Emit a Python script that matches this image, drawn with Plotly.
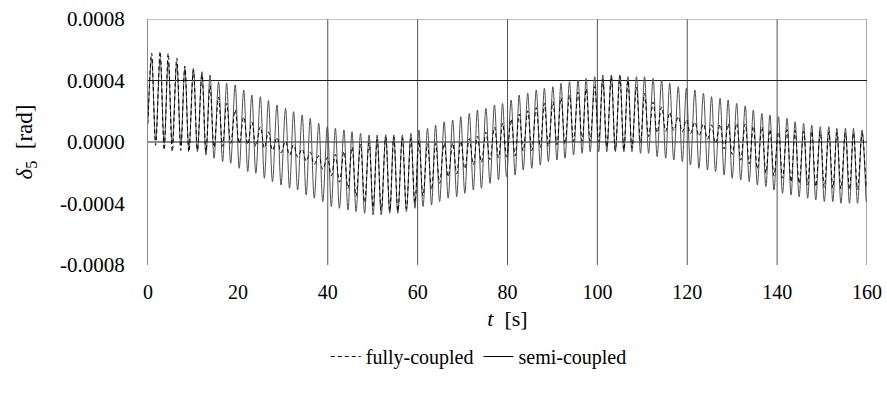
import plotly.graph_objects as go

# ---- data (values in rad, times in s) ----
t_peak = [0.8, 2.7, 4.5, 6.4, 8.2, 10.1, 12.0, 13.8, 15.7, 17.5, 19.4, 21.3, 23.1, 25.0, 26.8,
          28.7, 30.6, 32.4, 34.3, 36.1, 38.0, 39.9, 41.7, 43.6, 45.4, 47.3, 49.2, 51.0, 52.9,
          54.7, 56.6, 58.5, 60.3, 62.2, 64.0, 65.9, 67.8, 69.6, 71.5, 73.3, 75.2, 77.1, 78.9,
          80.8, 82.6, 84.5, 86.4, 88.2, 90.1, 91.9, 93.8, 95.7, 97.5, 99.4, 101.2, 103.1, 105.0, 106.8,
          108.7, 110.5, 112.4, 114.3, 116.1, 118.0, 119.8, 121.7, 123.6, 125.4, 127.3, 129.1, 131.0, 132.9,
          134.7, 136.6, 138.4, 140.3, 142.2, 144.0, 145.9, 147.7, 149.6, 151.5, 153.3, 155.2, 157.0, 158.9]
t_trough = [1.7, 3.6, 5.4, 7.3, 9.1, 11.0, 12.9, 14.7, 16.6, 18.4, 20.3, 22.2, 24.0, 25.9,
            27.7, 29.6, 31.5, 33.3, 35.2, 37.0, 38.9, 40.8, 42.6, 44.5, 46.3, 48.2, 50.1, 51.9,
            53.8, 55.6, 57.5, 59.4, 61.2, 63.1, 64.9, 66.8, 68.7, 70.5, 72.4, 74.2, 76.1, 78.0,
            79.8, 81.7, 83.5, 85.4, 87.3, 89.1, 91.0, 92.8, 94.7, 96.6, 98.4, 100.3, 102.1, 104.0, 105.9,
            107.7, 109.6, 111.4, 113.3, 115.2, 117.0, 118.9, 120.7, 122.6, 124.5, 126.3, 128.2, 130.0, 131.9, 133.8,
            135.6, 137.5, 139.3, 141.2, 143.1, 144.9, 146.8, 148.6, 150.5, 152.4, 154.2, 156.1, 157.9, 159.8]

# semi-coupled: peaks / troughs (x1e-6 rad)
semi_peak = [544, 544, 523, 512, 479, 479, 457, 436, 392, 382, 371, 338, 306, 295, 270,
             241, 219, 197, 176, 154, 121, 100, 89, 78, 67, 56, 46, 46, 48,
             46, 46, 56, 78, 89, 110, 132, 143, 165, 186, 208, 219, 241, 251,
             273, 306, 317, 338, 349, 360, 382, 392, 403, 414, 425, 436, 436, 436, 425,
             425, 425, 414, 403, 382, 360, 349, 338, 317, 295, 284, 273, 251, 235,
             208, 186, 176, 165, 154, 132, 121, 110, 100, 100, 89, 89, 89, 78]
semi_trough = [13, -9, -9, -20, -52, -63, -85, -106, -128, -139, -171, -193, -204, -236,
               -258, -280, -301, -312, -345, -366, -388, -420, -431, -442, -453, -464, -475, -475,
               -464, -464, -453, -431, -420, -410, -388, -366, -356, -334, -312, -301, -269, -247,
               -225, -215, -182, -171, -150, -128, -117, -106, -85, -74, -63, -63, -63, -63, -63,
               -63, -74, -74, -95, -106, -117, -128, -150, -171, -182, -193, -215, -236, -247, -258,
               -280, -290, -312, -334, -345, -356, -366, -377, -388, -388, -399, -399, -399, -388]

# fully-coupled: peaks / troughs (x1e-6 rad)
full_peak = [579, 588, 577, 546, 494, 468, 436, 365, 292, 252, 210, 163, 131, 100, 66,
             30, 4, -18, -45, -66, -89, -100, -81, -62, -33, -14, -5, 15, 32,
             31, 26, 22, 9, -11, -9, -7, -7, 5, 22, 38, 65, 97, 123,
             149, 182, 203, 224, 251, 262, 288, 304, 325, 346, 361, 407, 427, 427, 401,
             356, 316, 260, 229, 193, 166, 145, 129, 118, 111, 115, 119, 122, 118,
             104, 98, 82, 65, 80, 75, 70, 70, 65, 65, 60, 60, 60, 55]
full_trough = [-21, -52, -63, -54, -66, -52, -64, -35, -28, -8, -10, -17, -29, -40,
               -54, -70, -86, -98, -125, -146, -179, -220, -261, -302, -353, -394, -425, -445,
               -448, -449, -434, -398, -351, -311, -269, -227, -207, -175, -148, -132, -115, -103,
               -97, -91, -58, -57, -36, -29, -18, -12, 4, 5, 6, 1, -33, -53, -53,
               -39, -4, 36, 60, 69, 73, 66, 55, 39, 18, -9, -45, -81, -118, -142,
               -176, -202, -218, -235, -260, -270, -280, -290, -295, -300, -305, -310, -310, -300]

t_start = 0.0
semi_start = 150
full_start = 120

x_ticks = [0, 20, 40, 60, 80, 100, 120, 140, 160]
y_ticks = [-0.0008, -0.0004, 0.0, 0.0004, 0.0008]
y_ticktext = ["-0.0008", "-0.0004", "0.0000", "0.0004", "0.0008"]
x_grid = [40, 60, 80, 100, 120, 140, 160]
y_grid = [0.0, 0.0004]


def assemble(t0, v0, tp, vp, tt, vt):
    ts, vs = [t0], [v0 * 1e-6]
    for a, b, c, d in zip(tp, vp, tt, vt):
        ts += [a, c]
        vs += [b * 1e-6, d * 1e-6]
    return ts, vs


t_full, v_full = assemble(t_start, full_start, t_peak, full_peak, t_trough, full_trough)
t_semi, v_semi = assemble(t_start, semi_start, t_peak, semi_peak, t_trough, semi_trough)

FONT = "Liberation Serif"

fig = go.Figure()
fig.add_trace(go.Scatter(x=t_semi, y=v_semi, mode="lines", name="semi-coupled",
                         line=dict(color="#505050", width=1, shape="spline"),
                         showlegend=False))
fig.add_trace(go.Scatter(x=t_full, y=v_full, mode="lines", name="fully-coupled",
                         line=dict(color="#000000", width=1, dash="4px,3px", shape="spline")))
# legend entry for the solid series (placed after the dashed one)
fig.add_trace(go.Scatter(x=[None], y=[None], mode="lines", name="semi-coupled",
                         line=dict(color="#000000", width=1)))

shapes = []
for gx in x_grid:
    shapes.append(dict(type="line", xref="x", yref="y", x0=gx, x1=gx,
                       y0=y_ticks[0], y1=y_ticks[-1], layer="below",
                       line=dict(color="#555555", width=1)))
for gy in y_grid:
    shapes.append(dict(type="line", xref="x", yref="y", x0=x_ticks[0], x1=x_ticks[-1],
                       y0=gy, y1=gy, layer="below",
                       line=dict(color="#1a1a1a", width=1)))
shapes.append(dict(type="line", xref="x", yref="y", x0=x_ticks[0], x1=x_ticks[-1],
                   y0=y_ticks[-1], y1=y_ticks[-1], layer="below",
                   line=dict(color="#8a8a8a", width=1)))

fig.update_layout(
    width=887, height=394,
    margin=dict(l=148, r=20, t=19, b=129, autoexpand=False),
    paper_bgcolor="white", plot_bgcolor="white",
    font=dict(family=FONT, color="black"),
    shapes=shapes,
    showlegend=True,
    legend=dict(orientation="h", x=0.46, xanchor="center", y=-0.372, yanchor="middle",
                font=dict(size=20, family=FONT), itemwidth=30, tracegroupgap=0,
                bgcolor="rgba(0,0,0,0)"),
    xaxis=dict(range=[0, 160], tickvals=x_ticks, showgrid=False, zeroline=False,
               showline=False, ticks="", ticklabelstandoff=13, ticklabeloverflow="allow",
               automargin=False,
               tickfont=dict(size=20, family=FONT),
               title=dict(text="<i>t</i>  [s]", font=dict(size=22, family=FONT), standoff=8)),
    yaxis=dict(range=[-0.0008, 0.0008], tickvals=y_ticks, ticktext=y_ticktext,
               showgrid=False, zeroline=False, showline=True, linecolor="#8a8a8a",
               linewidth=1, ticks="", ticklabelstandoff=18, ticklabeloverflow="allow",
               automargin=False,
               tickfont=dict(size=21, family=FONT),
               title=dict(text="<i>δ</i><sub>5</sub>  [rad]", font=dict(size=23, family=FONT),
                          standoff=20)),
)

# remove the default page margin so the 887x394 figure fills the window exactly
fig.write_html("out.html",
               config={"displayModeBar": False},
               post_script="document.body.style.margin='0px';document.body.style.overflow='hidden';")
